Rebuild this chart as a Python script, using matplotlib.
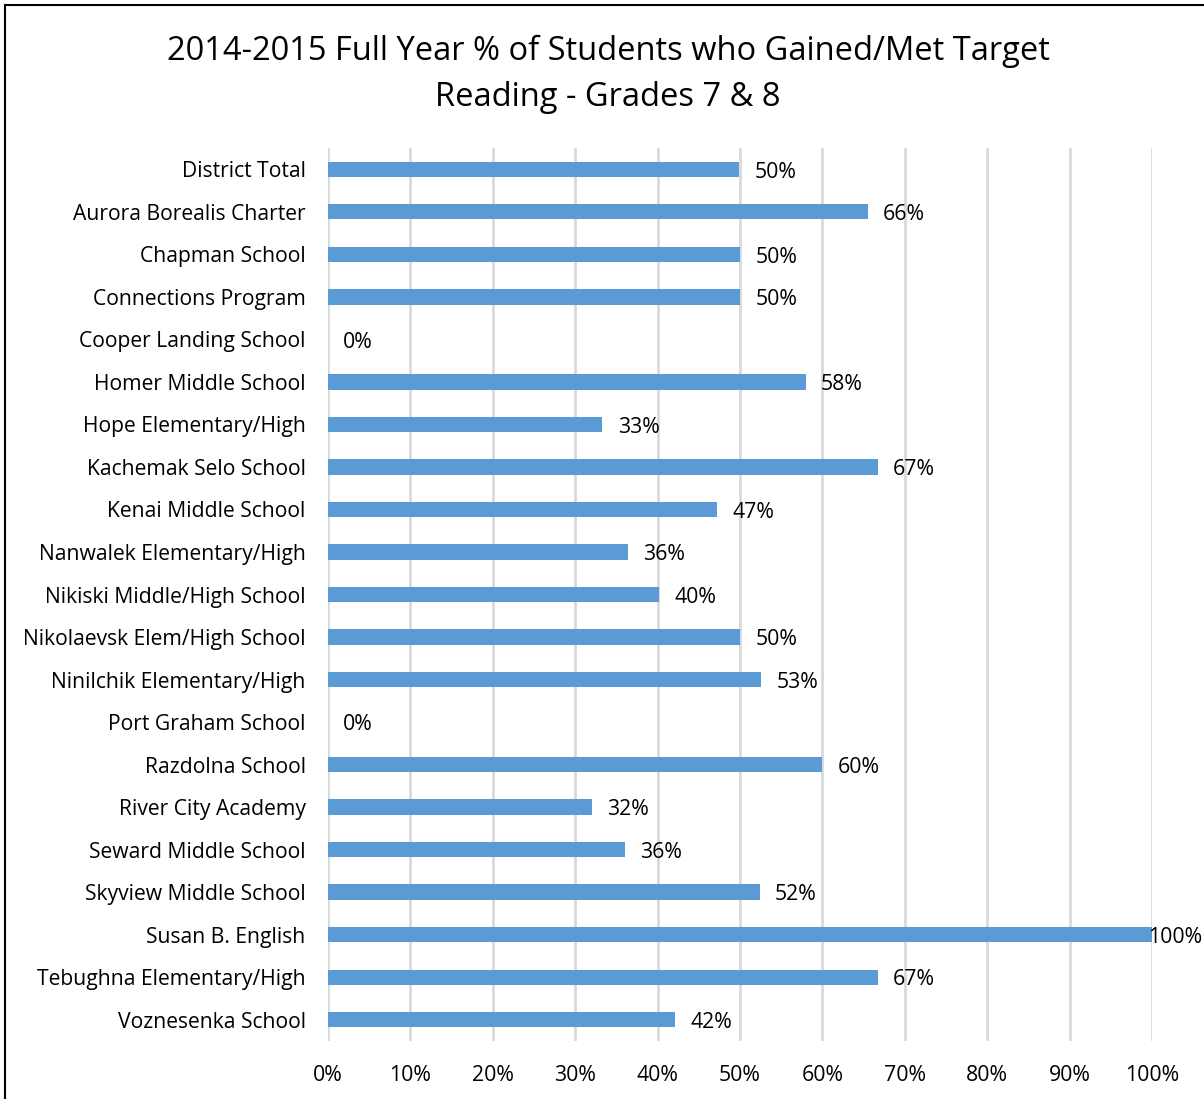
import matplotlib.pyplot as plt
from matplotlib.lines import Line2D

plt.rcParams['font.family'] = ['Open Sans', 'DejaVu Sans']

schools = [
    "District Total", "Aurora Borealis Charter", "Chapman School", "Connections Program",
    "Cooper Landing School", "Homer Middle School", "Hope Elementary/High",
    "Kachemak Selo School", "Kenai Middle School", "Nanwalek Elementary/High",
    "Nikiski Middle/High School", "Nikolaevsk Elem/High School", "Ninilchik Elementary/High",
    "Port Graham School", "Razdolna School", "River City Academy", "Seward Middle School",
    "Skyview Middle School", "Susan B. English", "Tebughna Elementary/High", "Voznesenka School",
]
pct_met = [49.9, 65.5, 50.0, 50.0, 0.0, 58.0, 33.3, 66.7, 47.2, 36.4, 40.2, 50.0,
           52.6, 0.0, 60.0, 32.0, 36.0, 52.4, 100.0, 66.7, 42.1]
pct_labels = ["50%", "66%", "50%", "50%", "0%", "58%", "33%", "67%", "47%", "36%", "40%",
              "50%", "53%", "0%", "60%", "32%", "36%", "52%", "100%", "67%", "42%"]
xticks = list(range(0, 101, 10))

fig = plt.figure(figsize=(12.04, 10.99), dpi=100)
ax = fig.add_axes([0.2724, 0.0528, 0.6844, 0.8125])

ypos = list(range(len(schools)))
ax.barh(ypos, pct_met, height=0.36, color='#5b9bd5', zorder=3)

for y, v, lab in zip(ypos, pct_met, pct_labels):
    off = 11 if v < 100 else -3
    ax.annotate(lab, (v, y), xytext=(off, -2), textcoords='offset points',
                ha='left', va='center', fontsize=15.3, color='#000000')

ax.set_xlim(0, 100)
ax.set_ylim(len(schools) - 0.5, -0.5)
ax.set_yticks(ypos)
ax.set_yticklabels(schools, fontsize=15.2)
ax.set_xticks(xticks)
ax.set_xticklabels([f"{t}%" for t in xticks], fontsize=15.3)
ax.tick_params(axis='both', length=0)
ax.tick_params(axis='y', pad=16)
ax.tick_params(axis='x', pad=17)
ax.grid(axis='x', color='#d9d9d9', linewidth=2, zorder=0)
for s in ax.spines.values():
    s.set_visible(False)

fig.text(0.505, 0.953, "2014-2015 Full Year % of Students who Gained/Met Target",
         ha='center', va='center', fontsize=23.5)
fig.text(0.505, 0.911, "Reading - Grades 7 & 8", ha='center', va='center', fontsize=23.5)

# border on the left and top, as in the cropped original
fig.add_artist(Line2D([0.0045, 0.0045], [0, 0.9955], transform=fig.transFigure,
                      color='black', linewidth=1.5))
fig.add_artist(Line2D([0.0045, 1], [0.9955, 0.9955], transform=fig.transFigure,
                      color='black', linewidth=1.5))

fig.savefig('out.png', dpi=100)
